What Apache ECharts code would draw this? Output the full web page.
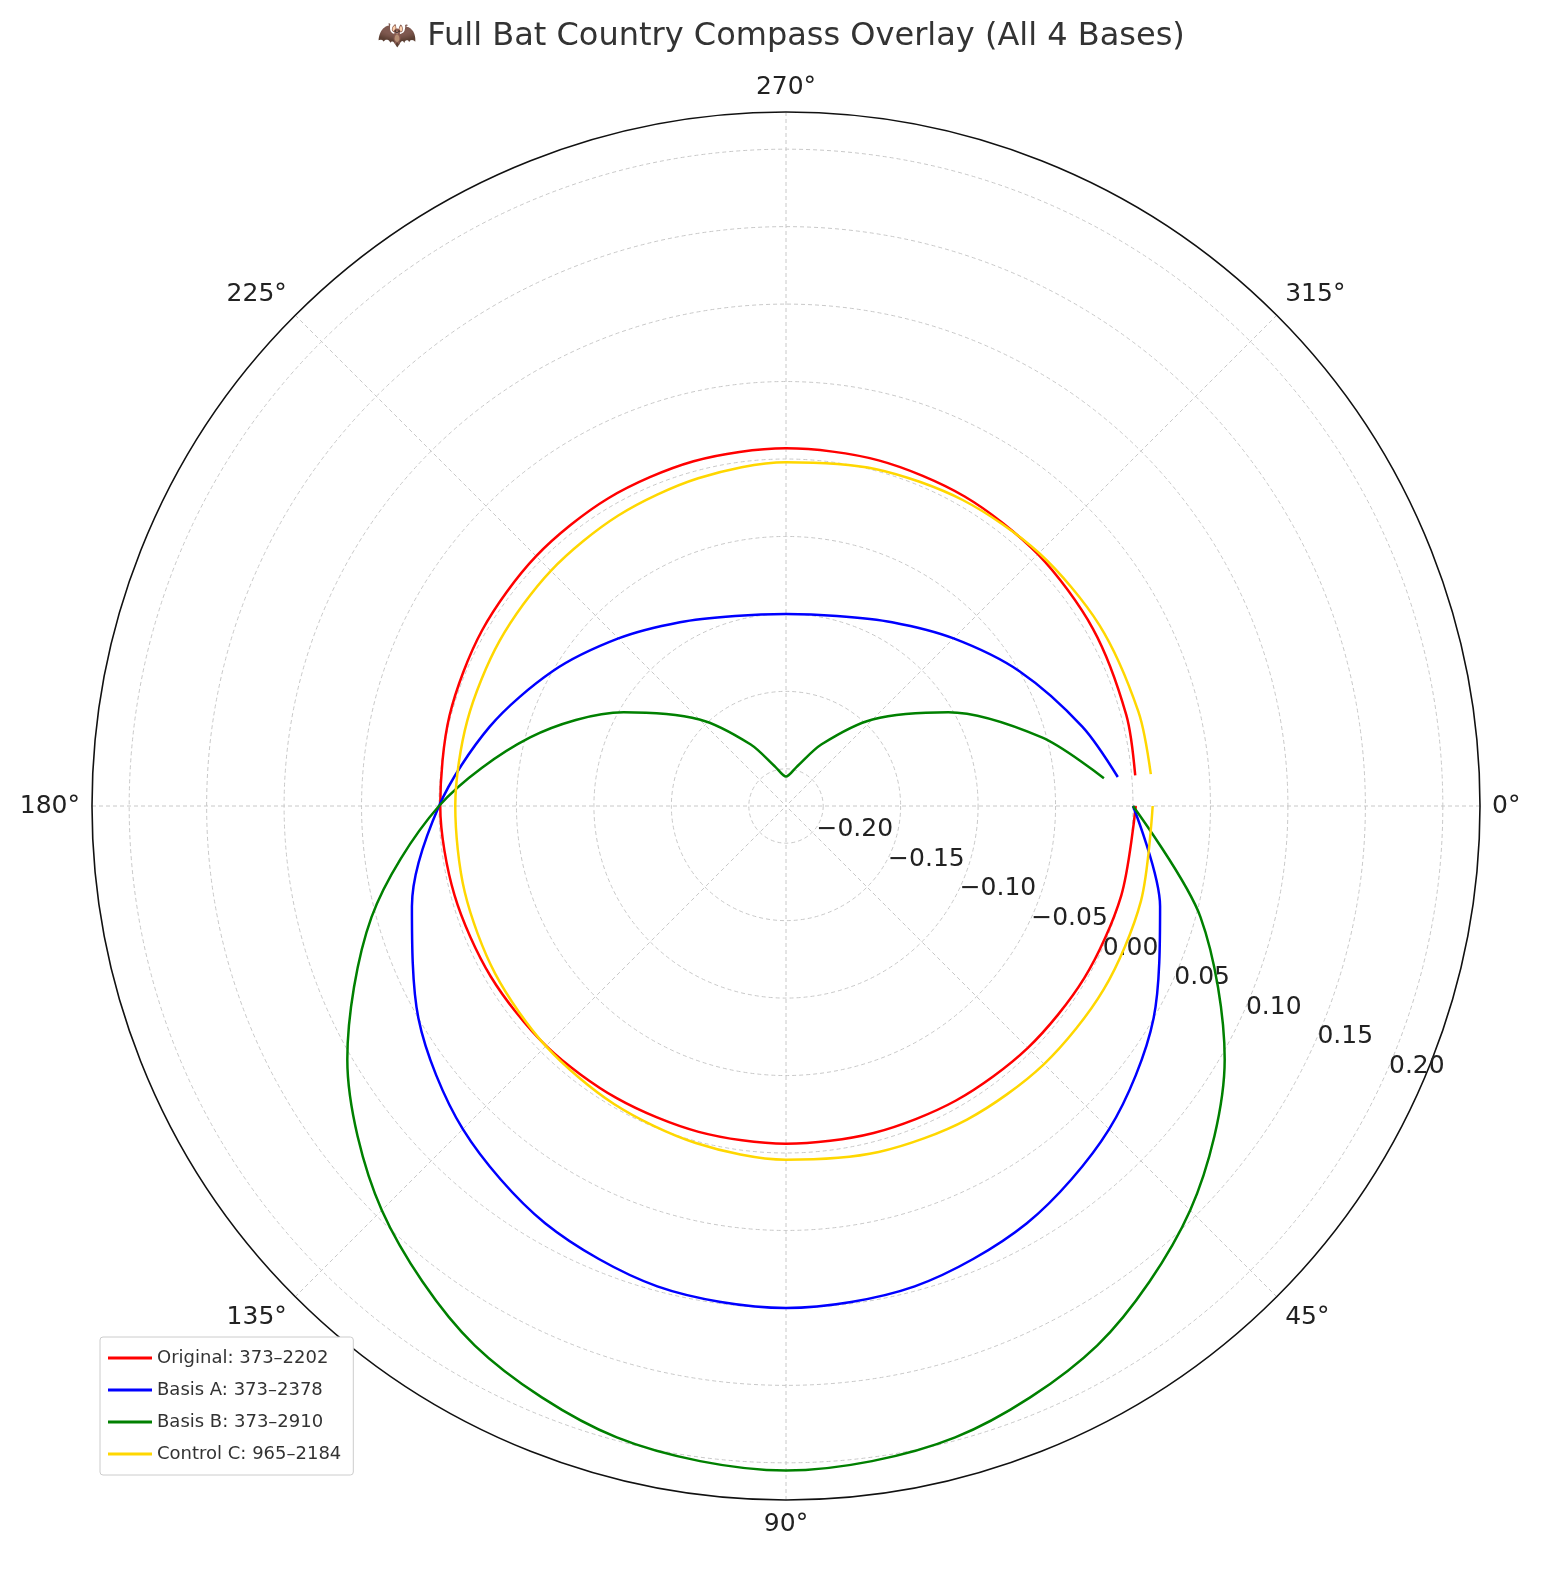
<!DOCTYPE html>
<html><head><meta charset="utf-8">
<script src="https://cdn.jsdelivr.net/npm/echarts@6/dist/echarts.min.js"></script>
<style>html,body{margin:0;padding:0;background:#fff;overflow:hidden}#c{width:1562px;height:1580px}</style>
</head><body><div id="c"></div>
<script>
const angles = [0,15,30,45,60,75,90,105,120,135,150,165,180,195,210,225,240,255,270,285,300,315,330,345,355];
const original = [0.0018,0.0000,-0.0017,-0.0032,-0.0045,-0.0055,-0.0060,-0.0062,-0.0060,-0.0050,-0.0039,-0.0024,-0.0008,0.0009,0.0026,0.0041,0.0054,0.0064,0.0069,0.0070,0.0067,0.0059,0.0048,0.0034,0.0023];
const basisA = [0,0.026,0.050,0.071,0.087,0.097,0.100,0.097,0.087,0.071,0.050,0.026,0,-0.026,-0.050,-0.071,-0.087,-0.097,-0.100,-0.097,-0.087,-0.071,-0.050,-0.026,-0.009];
const basisB = [0,0.053,0.103,0.145,0.178,0.198,0.205,0.198,0.178,0.145,0.103,0.053,0,-0.053,-0.103,-0.145,-0.178,-0.198,-0.205,-0.198,-0.178,-0.145,-0.103,-0.053,-0.018];
const controlC = [0.0127,0.0132,0.0128,0.0116,0.0097,0.0072,0.0043,0.0012,-0.0019,-0.0048,-0.0073,-0.0093,-0.0105,-0.0110,-0.0106,-0.0093,-0.0075,-0.0050,-0.0021,0.0011,0.0041,0.0070,0.0096,0.0115,0.0124];
const radiusTicks = [-0.20,-0.15,-0.10,-0.05,0.00,0.05,0.10,0.15,0.20];
const names = ['Original: 373–2202','Basis A: 373–2378','Basis B: 373–2910','Control C: 965–2184'];
const colors = ['#ff0000','#0000ff','#008000','#ffd700'];
const seriesVals = [original,basisA,basisB,controlC];
const rMin = -0.224, rMax = 0.224;
const fmt = v => (v<0?'\u2212':'')+Math.abs(v).toFixed(2);
const ch = echarts.init(document.getElementById('c'));
ch.setOption({
  animation:false,
  title:{text:'🦇 Full Bat Country Compass Overlay (All 4 Bases)',left:'center',top:16,
    textStyle:{fontFamily:'DejaVu Sans',fontSize:32,fontWeight:'normal',color:'#333'}},
  legend:{orient:'vertical',left:100,top:1337,itemWidth:44,itemHeight:3,itemGap:14,
    padding:[12,12,12,8],borderColor:'#ccc',borderWidth:1,borderRadius:3,backgroundColor:'#fff',
    textStyle:{fontFamily:'DejaVu Sans',fontSize:18,color:'#333'},data:names.map(n=>({name:n,icon:'rect'}))},
  polar:[{center:[786,806],radius:694},{center:[786,806],radius:694}],
  angleAxis:[{polarIndex:0,type:'value',min:0,max:360,interval:45,startAngle:0,clockwise:true,
    axisLine:{lineStyle:{color:'#111',width:1.6}},axisTick:{show:false},
    axisLabel:{formatter:v=>v===360?'':v+'°',fontFamily:'DejaVu Sans',fontSize:25,color:'#222',margin:12},
    splitLine:{show:true,lineStyle:{color:'#c8c8c8',type:[4,3],width:1}}},
    {polarIndex:1,type:'value',min:0,max:360,startAngle:-22.5,show:false}],
  radiusAxis:[{polarIndex:0,type:'value',min:rMin,max:rMax,
    axisLine:{show:false},axisTick:{show:false,customValues:radiusTicks},
    axisLabel:{show:false,customValues:radiusTicks},
    splitLine:{show:true,lineStyle:{color:'#c8c8c8',type:[4,3],width:1}}},
    {polarIndex:1,type:'value',min:rMin,max:rMax,axisLine:{show:false},axisTick:{show:false,customValues:radiusTicks},
    splitLine:{show:false},
    axisLabel:{customValues:radiusTicks,formatter:fmt,fontFamily:'DejaVu Sans',fontSize:25,color:'#222',margin:-10,rotate:0}}],
  series:seriesVals.map((vals,i)=>({name:names[i],type:'line',coordinateSystem:'polar',polarIndex:0,
    data:vals.map((v,j)=>[v,angles[j]]),smooth:0.3,showSymbol:false,
    lineStyle:{color:colors[i],width:2.5},itemStyle:{color:colors[i]}}))
});
</script></body></html>
